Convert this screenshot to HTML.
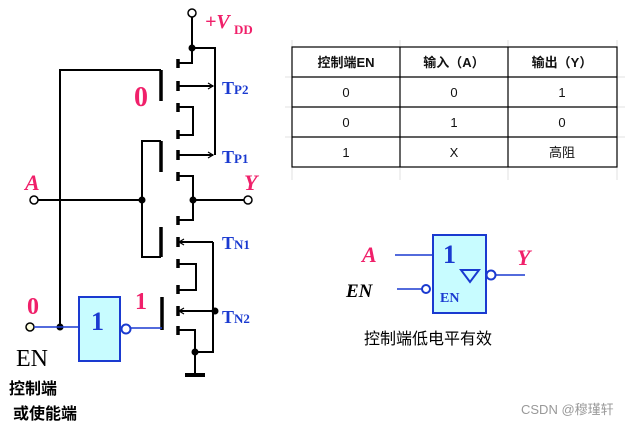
<!DOCTYPE html>
<html><head><meta charset="utf-8"><style>
body{margin:0;background:#fff;}
</style></head><body>
<svg width="638" height="425" viewBox="0 0 638 425" xmlns="http://www.w3.org/2000/svg" font-family="Liberation Serif, Noto Serif CJK SC, serif">
<g stroke="#000" stroke-width="2" fill="none">
<line x1="192" y1="17" x2="192" y2="48"/>
<polyline points="192,48 215,48 215,155"/>
<polyline points="192,48 192,63 178,63"/>
<line x1="178" y1="86" x2="213" y2="86"/>
<polyline points="178,107 193,107 193,135 178,135"/>
<line x1="178" y1="155" x2="213" y2="155"/>
<polyline points="178,176 193,176 193,200"/>
<polyline points="161,70 60,70 60,327"/>
<polyline points="161,141 142,141 142,257 161,257"/>
<line x1="34" y1="200" x2="142" y2="200"/>
<line x1="193" y1="200" x2="244" y2="200"/>
<polyline points="193,200 193,220 178,220"/>
<line x1="178" y1="242" x2="213" y2="242"/>
<polyline points="178,264 196,264 196,290 178,290"/>
<line x1="178" y1="311" x2="215" y2="311"/>
<polyline points="178,330 195,330 195,375"/>
<polyline points="213,242 213,352 195,352"/>
</g>
<g stroke="#000" stroke-width="3.5">
<line x1="178" y1="59" x2="178" y2="68"/>
<line x1="178" y1="81" x2="178" y2="91"/>
<line x1="178" y1="103" x2="178" y2="112"/>
<line x1="178" y1="130" x2="178" y2="139"/>
<line x1="178" y1="150" x2="178" y2="160"/>
<line x1="178" y1="172" x2="178" y2="181"/>
<line x1="178" y1="216" x2="178" y2="225"/>
<line x1="178" y1="237" x2="178" y2="247"/>
<line x1="178" y1="259" x2="178" y2="268"/>
<line x1="178" y1="285" x2="178" y2="294"/>
<line x1="178" y1="306" x2="178" y2="316"/>
<line x1="178" y1="326" x2="178" y2="335"/>
<line x1="161" y1="70" x2="161" y2="101"/>
<line x1="161" y1="141" x2="161" y2="172"/>
<line x1="161" y1="227" x2="161" y2="257"/>
<line x1="162" y1="297" x2="162" y2="330"/>
<line x1="185" y1="375" x2="205" y2="375" stroke-width="4"/>
</g>
<g stroke="#000" stroke-width="1.2" fill="none">
<polyline points="208,83 213,86 208,89"/>
<polyline points="208,152 213,155 208,158"/>
<polyline points="184,239 179,242 184,245"/>
<polyline points="184,308 179,311 184,314"/>
</g>
<g fill="#000">
<circle cx="192" cy="48" r="3.5"/><circle cx="142" cy="200" r="3.5"/><circle cx="193" cy="200" r="3.5"/>
<circle cx="215" cy="311" r="3.5"/><circle cx="195" cy="352" r="3.5"/><circle cx="60" cy="327" r="3.5"/>
</g>
<g fill="#fff" stroke="#000" stroke-width="1.5">
<circle cx="192" cy="13" r="4"/><circle cx="34" cy="200" r="4"/><circle cx="248" cy="200" r="4"/>
<circle cx="30" cy="327" r="4" fill="#ffffe0"/>
</g>
<g stroke="#1a3ad0" stroke-width="1.5" fill="none">
<line x1="34" y1="327" x2="79" y2="327"/>
<line x1="130" y1="328" x2="162" y2="328"/>
<rect x="79" y="297" width="41" height="64" fill="#c8fcff" stroke-width="2"/>
<circle cx="126" cy="329" r="4.5" fill="#fff" stroke-width="2"/>
</g>
<text x="91" y="330" font-size="26" font-weight="bold" fill="#1a3ad0">1</text>
<g fill="#f0206a" font-weight="bold">
<text x="205" y="28" font-size="20" font-style="italic">+V</text>
<text x="234" y="34" font-size="13">DD</text>
<text x="134" y="106" font-size="28">0</text>
<text x="27" y="314" font-size="24">0</text>
<text x="135" y="309" font-size="24">1</text>
<text x="25" y="190" font-size="22" font-style="italic">A</text>
<text x="244" y="190" font-size="22" font-style="italic">Y</text>
</g>
<g fill="#1a3ad0" font-weight="bold">
<text x="222" y="94" font-size="18">T<tspan font-size="13">P2</tspan></text>
<text x="222" y="163" font-size="18">T<tspan font-size="13">P1</tspan></text>
<text x="222" y="249" font-size="18">T<tspan font-size="13">N1</tspan></text>
<text x="222" y="323" font-size="18">T<tspan font-size="13">N2</tspan></text>
</g>
<text x="16" y="366" font-size="24">EN</text>
<text x="9" y="394" font-size="16" font-family="Noto Sans CJK SC, sans-serif" font-weight="bold">控制端</text>
<text x="13" y="419" font-size="16" font-family="Noto Sans CJK SC, sans-serif" font-weight="bold">或使能端</text>
<g stroke="#e0e0e0" stroke-width="1">
<line x1="292" y1="40" x2="292" y2="180"/><line x1="400" y1="40" x2="400" y2="180"/><line x1="508" y1="40" x2="508" y2="180"/><line x1="617" y1="40" x2="617" y2="180"/>
<line x1="285" y1="77" x2="625" y2="77"/><line x1="285" y1="107" x2="625" y2="107"/><line x1="285" y1="137" x2="625" y2="137"/>
</g>
<g stroke="#000" stroke-width="1.2">
<rect x="292" y="47" width="325" height="120" fill="none"/>
<line x1="400" y1="47" x2="400" y2="167"/><line x1="508" y1="47" x2="508" y2="167"/>
<line x1="292" y1="77" x2="617" y2="77"/><line x1="292" y1="107" x2="617" y2="107"/><line x1="292" y1="137" x2="617" y2="137"/>
</g>
<g font-family="Liberation Sans, Noto Sans CJK SC, sans-serif" font-size="13" text-anchor="middle" fill="#111">
<text x="346" y="67" font-weight="bold">控制端EN</text><text x="454" y="67" font-weight="bold">输入（A）</text><text x="562" y="67" font-weight="bold">输出（Y）</text>
<text x="346" y="97">0</text><text x="454" y="97">0</text><text x="562" y="97">1</text>
<text x="346" y="127">0</text><text x="454" y="127">1</text><text x="562" y="127">0</text>
<text x="346" y="157">1</text><text x="454" y="157">X</text><text x="562" y="157">高阻</text>
</g>
<g stroke="#1a3ad0" stroke-width="1.5" fill="none">
<line x1="395" y1="255" x2="433" y2="255"/>
<line x1="397" y1="289" x2="422" y2="289"/>
<line x1="496" y1="275" x2="525" y2="275"/>
<rect x="433" y="235" width="53" height="78" fill="#c8fcff" stroke-width="2"/>
<circle cx="426" cy="289" r="4" fill="#fff" stroke-width="2"/>
<circle cx="491" cy="275" r="4.5" fill="#fff" stroke-width="2"/>
<polygon points="461,270 479,270 470,282" stroke-width="2"/>
</g>
<text x="443" y="263" font-size="26" font-weight="bold" fill="#1a3ad0">1</text>
<text x="440" y="302" font-size="14" font-weight="bold" fill="#1a3ad0">EN</text>
<text x="362" y="262" font-size="22" font-weight="bold" font-style="italic" fill="#f0206a">A</text>
<text x="517" y="265" font-size="22" font-weight="bold" font-style="italic" fill="#f0206a">Y</text>
<text x="346" y="297" font-size="19" font-weight="bold" font-style="italic">EN</text>
<text x="364" y="344" font-size="16" font-family="Noto Sans CJK SC, sans-serif">控制端低电平有效</text>
<text x="521" y="414" font-size="13" fill="#999" font-family="Liberation Sans, Noto Sans CJK SC, sans-serif">CSDN @穆瑾轩</text>
</svg>
</body></html>
